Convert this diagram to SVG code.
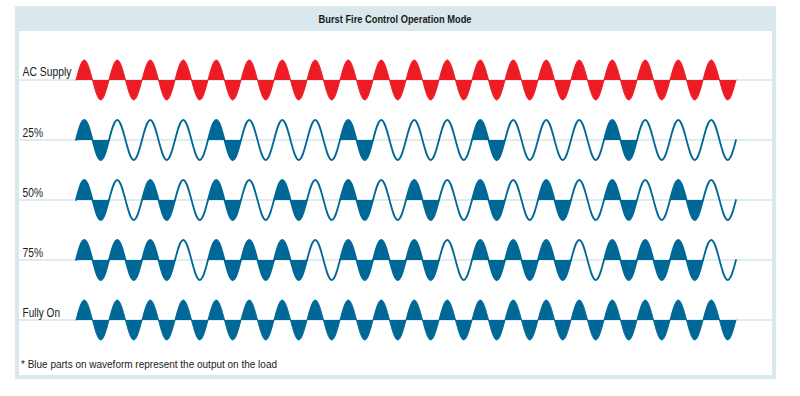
<svg xmlns="http://www.w3.org/2000/svg" width="800" height="396" viewBox="0 0 800 396">
<style>
.lbl{font-family:"Liberation Sans","DejaVu Sans",Arial,sans-serif;font-size:12px;fill:#1a1a1a}
.ttl{font-family:"Liberation Sans","DejaVu Sans",Arial,sans-serif;font-size:10.5px;font-weight:bold;fill:#1a1a1a}
.note{font-family:"Liberation Sans","DejaVu Sans",Arial,sans-serif;font-size:11px;fill:#1a1a1a}
.axis{stroke:#d3e6ec;stroke-width:1.3}
.line{fill:none;stroke:#006897;stroke-width:1.8;stroke-linejoin:round;stroke-linecap:round}
.bfill{fill:#006897;stroke:none}
.rfill{fill:#ed1c24;stroke:none}
.rline{fill:none;stroke:#ed1c24;stroke-width:1;stroke-linecap:round}
.bline{fill:none;stroke:#006897;stroke-width:1;stroke-linecap:round}
</style>
<defs>
<path id="cline" d="M0,0 c2.69,-10.246 5.264,-20 8.25,-20 s5.56,9.754 8.25,20 s5.264,20 8.25,20 s5.56,-9.754 8.25,-20"/>
<path id="cyc" d="M0,0 c2.69,-10.246 5.264,-20 8.25,-20 s5.56,9.754 8.25,20 s5.264,20 8.25,20 s5.56,-9.754 8.25,-20 Z"/>
<g id="wline">
<use href="#cline" x="0"/><use href="#cline" x="33"/><use href="#cline" x="66"/><use href="#cline" x="99"/><use href="#cline" x="132"/>
<use href="#cline" x="165"/><use href="#cline" x="198"/><use href="#cline" x="231"/><use href="#cline" x="264"/><use href="#cline" x="297"/>
<use href="#cline" x="330"/><use href="#cline" x="363"/><use href="#cline" x="396"/><use href="#cline" x="429"/><use href="#cline" x="462"/>
<use href="#cline" x="495"/><use href="#cline" x="528"/><use href="#cline" x="561"/><use href="#cline" x="594"/><use href="#cline" x="627"/>
</g>
<g id="wfill">
<use href="#cyc" x="0"/><use href="#cyc" x="33"/><use href="#cyc" x="66"/><use href="#cyc" x="99"/><use href="#cyc" x="132"/>
<use href="#cyc" x="165"/><use href="#cyc" x="198"/><use href="#cyc" x="231"/><use href="#cyc" x="264"/><use href="#cyc" x="297"/>
<use href="#cyc" x="330"/><use href="#cyc" x="363"/><use href="#cyc" x="396"/><use href="#cyc" x="429"/><use href="#cyc" x="462"/>
<use href="#cyc" x="495"/><use href="#cyc" x="528"/><use href="#cyc" x="561"/><use href="#cyc" x="594"/><use href="#cyc" x="627"/>
</g>
</defs>

<g id="frame">
<rect x="15" y="6" width="761" height="373" fill="#d9e8ec"/>
<rect x="19" y="31" width="753" height="344" fill="#ffffff"/>
<text class="ttl" x="395" y="22.5" text-anchor="middle" textLength="153" lengthAdjust="spacingAndGlyphs">Burst Fire Control Operation Mode</text>
</g>

<g id="axes">
<line class="axis" x1="19" y1="80" x2="772" y2="80"/>
<line class="axis" x1="19" y1="140" x2="772" y2="140"/>
<line class="axis" x1="19" y1="200" x2="772" y2="200"/>
<line class="axis" x1="19" y1="260" x2="772" y2="260"/>
<line class="axis" x1="19" y1="320" x2="772" y2="320"/>
</g>

<g id="row-ac">
<text class="lbl" x="22.5" y="76" textLength="49" lengthAdjust="spacingAndGlyphs">AC Supply</text>
<g transform="translate(76,80)">
<use href="#wfill" class="rfill"/>
<use href="#wline" class="rline"/>
</g>
</g>

<g id="row-25">
<text class="lbl" x="22.5" y="136.5" textLength="20.5" lengthAdjust="spacingAndGlyphs">25%</text>
<g transform="translate(76,140)">
<use href="#cyc" class="bfill" x="0"/>
<use href="#cyc" class="bfill" x="132"/>
<use href="#cyc" class="bfill" x="264"/>
<use href="#cyc" class="bfill" x="396"/>
<use href="#cyc" class="bfill" x="528"/>
<use href="#wline" class="line"/>
</g>
</g>

<g id="row-50">
<text class="lbl" x="22.5" y="196.5" textLength="20.5" lengthAdjust="spacingAndGlyphs">50%</text>
<g transform="translate(76,200)">
<use href="#cyc" class="bfill" x="0"/>
<use href="#cyc" class="bfill" x="66"/>
<use href="#cyc" class="bfill" x="132"/>
<use href="#cyc" class="bfill" x="198"/>
<use href="#cyc" class="bfill" x="264"/>
<use href="#cyc" class="bfill" x="330"/>
<use href="#cyc" class="bfill" x="396"/>
<use href="#cyc" class="bfill" x="462"/>
<use href="#cyc" class="bfill" x="528"/>
<use href="#cyc" class="bfill" x="594"/>
<use href="#wline" class="line"/>
</g>
</g>

<g id="row-75">
<text class="lbl" x="22.5" y="256.5" textLength="20.5" lengthAdjust="spacingAndGlyphs">75%</text>
<g transform="translate(76,260)">
<use href="#cyc" class="bfill" x="0"/>
<use href="#cyc" class="bfill" x="33"/>
<use href="#cyc" class="bfill" x="66"/>
<use href="#cyc" class="bfill" x="132"/>
<use href="#cyc" class="bfill" x="165"/>
<use href="#cyc" class="bfill" x="198"/>
<use href="#cyc" class="bfill" x="264"/>
<use href="#cyc" class="bfill" x="297"/>
<use href="#cyc" class="bfill" x="330"/>
<use href="#cyc" class="bfill" x="396"/>
<use href="#cyc" class="bfill" x="429"/>
<use href="#cyc" class="bfill" x="462"/>
<use href="#cyc" class="bfill" x="528"/>
<use href="#cyc" class="bfill" x="561"/>
<use href="#cyc" class="bfill" x="594"/>
<use href="#wline" class="line"/>
</g>
</g>

<g id="row-full">
<text class="lbl" x="22.5" y="316.5" textLength="37.5" lengthAdjust="spacingAndGlyphs">Fully On</text>
<g transform="translate(76,320)">
<use href="#wfill" class="bfill"/>
<use href="#wline" class="bline"/>
</g>
</g>

<g id="footnote">
<text class="note" x="21" y="368" textLength="256" lengthAdjust="spacingAndGlyphs">* Blue parts on waveform represent the output on the load</text>
</g>
</svg>
